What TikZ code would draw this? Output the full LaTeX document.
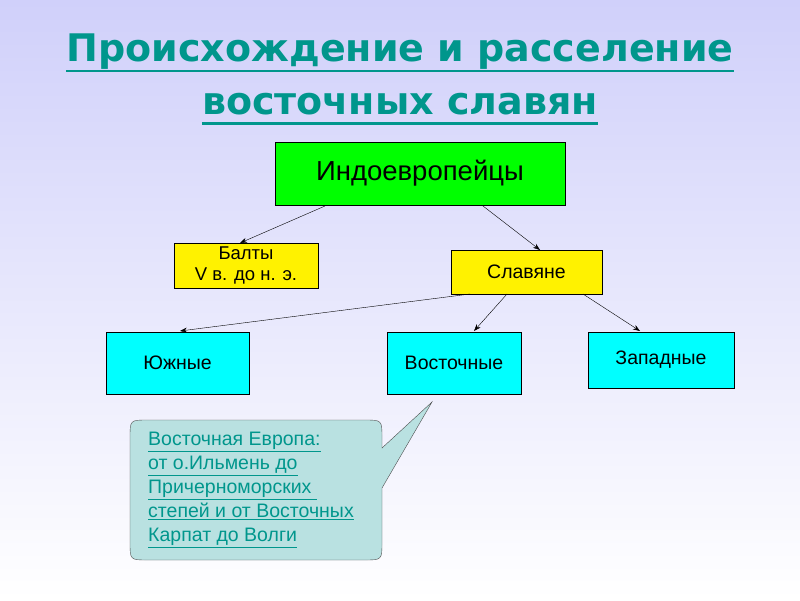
\documentclass[tikz,border=0pt]{standalone}
\usepackage{fontspec}
\setmainfont{Liberation Sans}
\newfontfamily\titlefont{DejaVu Sans}
\usetikzlibrary{arrows.meta}
\definecolor{lav}{RGB}{208,208,250}
\definecolor{teal2}{RGB}{0,150,140}
\definecolor{callfill}{RGB}{185,225,225}
\definecolor{cyanbox}{RGB}{0,255,255}
\begin{document}
\begin{tikzpicture}[x=1pt,y=-1pt,
  box/.style={draw=black,thin,inner sep=0pt,font=\fontsize{19.5}{23}\selectfont,align=center},
  ttl/.style={text=teal2,font=\titlefont\fontsize{38}{44}\selectfont\bfseries,inner sep=0pt},
  uline/.style={draw=teal2,line width=2.5pt},
  arr/.style={-{Stealth[length=7pt,width=5pt]},thin}]
\shade[top color=lav,bottom color=white] (0,0) rectangle (800,600);
\useasboundingbox (0,0) rectangle (800,600);
\node[ttl] (title1) at (400,52) {Происхождение и расселение};
\node[ttl] (title2) at (400,104) {восточных славян};
\draw[uline] ([yshift=-9pt]title1.base west) -- ([yshift=-9pt]title1.base east);
\draw[uline] ([yshift=-9pt]title2.base west) -- ([yshift=-9pt]title2.base east);
\node[box,fill=green,minimum width=290pt,minimum height=63pt,font=\fontsize{27.5}{32}\selectfont] (ie) at (420,173.5) {Индоевропейцы};
\node[box,fill=yellow,minimum width=144pt,minimum height=45pt,font=\fontsize{18.5}{21}\selectfont] (balt) at (246,265.5) {Балты\\V в. до н. э.};
\node[box,fill=yellow,minimum width=151pt,minimum height=44pt] (slav) at (526.5,272) {Славяне};
\node[box,fill=cyanbox,minimum width=143pt,minimum height=62pt] (south) at (177.5,363) {Южные};
\node[box,fill=cyanbox,minimum width=134pt,minimum height=62pt] (east) at (454,363) {Восточные};
\node[box,fill=cyanbox,minimum width=146pt,minimum height=56pt] (west) at (661,360) {Западные};
\coordinate (a1) at (325,206); \coordinate (a2) at (483,206);
\coordinate (s1) at (470,294); \coordinate (s2) at (507,294); \coordinate (s3) at (583,294);
\draw[arr] (a1) -- (240,243);
\draw[arr] (a2) -- (540,250);
\draw[arr] (s1) -- (180,331);
\draw[arr] (s2) -- (474,331);
\draw[arr] (s3) -- (640,331);
\coordinate (tip) at (432,402);
\draw[fill=callfill,draw=black!70,thin] (130,438) .. controls (130,420) .. (148,420) -- (364,420) .. controls (382,420) .. (382,438) -- (382,448) -- (tip) -- (382,488) -- (382,542) .. controls (382,560) .. (364,560) -- (148,560) .. controls (130,560) .. (130,542) -- cycle;
\node[anchor=north west,text=teal2,align=left,font=\fontsize{19.5}{24}\selectfont,inner sep=0pt] (txt) at (148,432)
 {\underline{Восточная Европа:}\\\underline{от о.Ильмень до}\\\underline{Причерноморских }\\\underline{степей и от Восточных}\\\underline{Карпат до Волги}};
\end{tikzpicture}
\end{document}
